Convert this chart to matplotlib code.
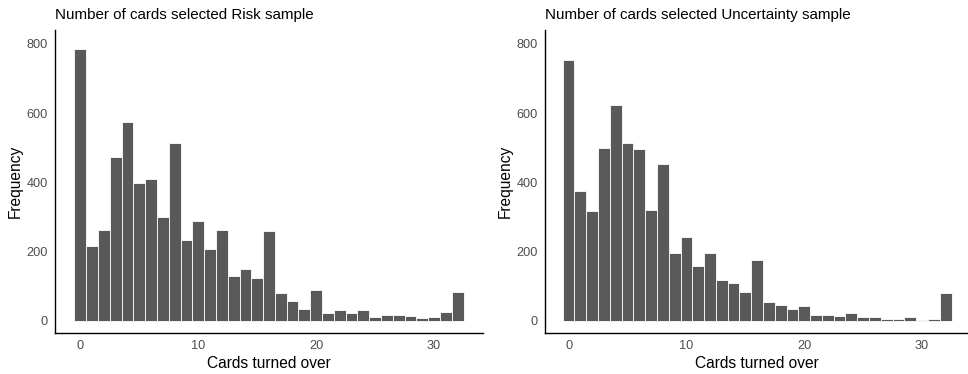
import matplotlib
matplotlib.use("Agg")
import matplotlib.pyplot as plt
import numpy as np

plt.rcParams['font.family'] = ['Liberation Sans', 'DejaVu Sans']

# cards turned over (0..32) and how often each happened
cards = np.arange(0, 33)
risk_counts = [785, 217, 263, 474, 575, 399, 410, 300, 514, 234, 289,
               208, 263, 130, 150, 124, 260, 81, 58, 35, 90, 23,
               32, 23, 32, 12, 17, 17, 14, 8, 12, 26, 84]
uncert_counts = [754, 375, 318, 500, 624, 514, 497, 321, 453, 196, 243,
                 159, 196, 118, 110, 84, 176, 55, 46, 35, 43, 17,
                 17, 14, 23, 12, 12, 6, 6, 12, 3, 6, 81]

titles = ["Number of cards selected Risk sample",
          "Number of cards selected Uncertainty sample"]
yticks = [0, 200, 400, 600, 800]
xticks = [0, 10, 20, 30]

W, H = 968, 374
fig = plt.figure(figsize=(W / 100, H / 100), dpi=100)


def px_axes(x0, x1, y0, y1):
    # y0 = top pixel, y1 = bottom pixel
    return fig.add_axes([x0 / W, (H - y1) / H, (x1 - x0) / W, (y1 - y0) / H])


panels = [
    (px_axes(55, 483, 30, 333), risk_counts, titles[0], (-2.15, 34.15)),
    (px_axes(545, 968, 30, 333), uncert_counts, titles[1], (-2.0, 33.9)),
]

for ax, counts, title, xlim in panels:
    ax.bar(cards, counts, width=1.0, color='#595959',
           edgecolor='white', linewidth=0.6)
    ax.set_xlim(*xlim)
    ax.set_ylim(-34.7, 840)
    ax.set_xticks(xticks)
    ax.set_yticks(yticks)
    ax.tick_params(length=0, labelsize=9.2, labelcolor='#4D4D4D', pad=5)
    for side in ['top', 'right']:
        ax.spines[side].set_visible(False)
    for side in ['left', 'bottom']:
        ax.spines[side].set_linewidth(1.0)
        ax.spines[side].set_color('black')
    ax.set_xlabel("Cards turned over", fontsize=11.2, labelpad=3)
    ax.set_ylabel("Frequency", fontsize=11.2, labelpad=3)
    ax.set_title(title, loc='left', fontsize=10.9, pad=8)

fig.savefig("out.png", dpi=100)
